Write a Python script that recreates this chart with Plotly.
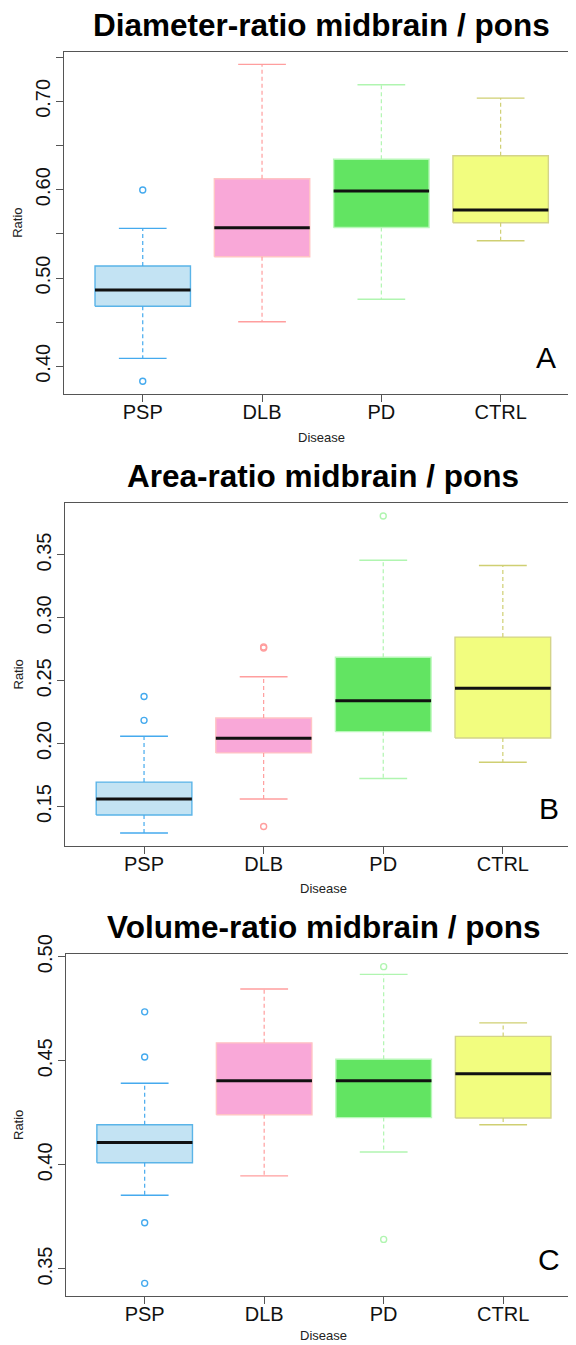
import plotly.graph_objects as go

categories = ["PSP", "DLB", "PD", "CTRL"]

# Panel A: Diameter-ratio
diam_q1 = [0.468, 0.5241, 0.5572, 0.5626]
diam_med = [0.4864, 0.5569, 0.5985, 0.5770]
diam_q3 = [0.5136, 0.6124, 0.6344, 0.6385]
diam_lo = [0.4090, 0.4505, 0.4759, 0.5422]
diam_hi = [0.5562, 0.7419, 0.7189, 0.7037]
diam_out = [[0.5997, 0.3830], [], [], []]

# Panel B: Area-ratio
area_q1 = [0.1432, 0.1926, 0.2095, 0.2045]
area_med = [0.1559, 0.2042, 0.2341, 0.2441]
area_q3 = [0.1694, 0.2204, 0.2687, 0.2847]
area_lo = [0.1289, 0.1559, 0.1722, 0.1852]
area_hi = [0.2058, 0.2532, 0.3458, 0.3416]
area_out = [[0.2375, 0.2185], [0.2760, 0.2768, 0.1341], [0.3810], []]

# Panel C: Volume-ratio
vol_q1 = [0.4010, 0.4241, 0.4227, 0.4225]
vol_med = [0.4107, 0.4404, 0.4404, 0.4438]
vol_q3 = [0.4193, 0.4586, 0.4507, 0.4617]
vol_lo = [0.3854, 0.3947, 0.4062, 0.4193]
vol_hi = [0.4392, 0.4845, 0.4915, 0.4682]
vol_out = [[0.4735, 0.4518, 0.3722, 0.3431], [], [0.4952, 0.3642], []]

titles = ["Diameter-ratio midbrain / pons", "Area-ratio midbrain / pons", "Volume-ratio midbrain / pons"]
letters = ["A", "B", "C"]
y_ticks = [
    [0.40, 0.45, 0.50, 0.55, 0.60, 0.65, 0.70, 0.75],
    [0.15, 0.20, 0.25, 0.30, 0.35],
    [0.35, 0.40, 0.45, 0.50],
]
y_ticklabels = [
    ["0.40", "", "0.50", "", "0.60", "", "0.70", ""],
    ["0.15", "0.20", "0.25", "0.30", "0.35"],
    ["0.35", "0.40", "0.45", "0.50"],
]

fill_colors = ["#c3e3f3", "#f9a8d8", "#62e462", "#f2fd7f"]
border_colors = ["#5ab4e8", "#ffc4c4", "#b8f8b8", "#d4d48a"]
whisker_colors = ["#45aaee", "#ff9e9e", "#b0f5b0", "#cfcf72"]

panels = [
    (diam_q1, diam_med, diam_q3, diam_lo, diam_hi, diam_out),
    (area_q1, area_med, area_q3, area_lo, area_hi, area_out),
    (vol_q1, vol_med, vol_q3, vol_lo, vol_hi, vol_out),
]

# The page body has an 8px margin; the figure is drawn at page offset (8, 8).
OFF = 8
W, H = 576 - OFF, 1345 - OFF


def fx(px):
    return (px - OFF) / W


def fy(py):
    return 1 - (py - OFF) / H


# page-pixel layout of each panel: (left, top, bottom)
panel_px = [(64.0, 51.7, 394.0), (65.1, 503.3, 845.7), (65.8, 954.0, 1296.0)]
spacing_px = [119.3, 119.6, 119.5]

FONT = "Liberation Sans, Arial, Helvetica, sans-serif"
fig = go.Figure()
layout = dict(
    width=W, height=H, margin=dict(l=0, r=0, t=0, b=0, autoexpand=False),
    paper_bgcolor="white", plot_bgcolor="white", showlegend=False,
    font=dict(family=FONT, color="black"),
)
annotations = []

for p, (q1, med, q3, lo, hi, outs) in enumerate(panels):
    ax = "" if p == 0 else str(p + 1)
    xr, yr = "x" + ax, "y" + ax
    for i, cat in enumerate(categories):
        c = i + 1
        # box
        fig.add_trace(go.Scatter(
            x=[c - 0.4, c + 0.4, c + 0.4, c - 0.4, c - 0.4],
            y=[q1[i], q1[i], q3[i], q3[i], q1[i]],
            fill="toself", fillcolor=fill_colors[i], mode="lines",
            line=dict(color=border_colors[i], width=1.4),
            xaxis=xr, yaxis=yr, hoverinfo="skip"))
        # whiskers
        fig.add_trace(go.Scatter(
            x=[c, c, None, c, c], y=[q3[i], hi[i], None, q1[i], lo[i]],
            mode="lines", line=dict(color=whisker_colors[i], width=1.2, dash="4px,3px"),
            xaxis=xr, yaxis=yr, hoverinfo="skip"))
        # staples
        fig.add_trace(go.Scatter(
            x=[c - 0.2, c + 0.2, None, c - 0.2, c + 0.2],
            y=[hi[i], hi[i], None, lo[i], lo[i]],
            mode="lines", line=dict(color=whisker_colors[i], width=1.4),
            xaxis=xr, yaxis=yr, hoverinfo="skip"))
        # median
        fig.add_trace(go.Scatter(
            x=[c - 0.4, c + 0.4], y=[med[i], med[i]],
            mode="lines", line=dict(color="#111111", width=3),
            xaxis=xr, yaxis=yr, name=cat))
        # outliers
        if outs[i]:
            fig.add_trace(go.Scatter(
                x=[c] * len(outs[i]), y=outs[i], mode="markers",
                marker=dict(symbol="circle-open", size=6, color=whisker_colors[i],
                            line=dict(width=1.4, color=whisker_colors[i])),
                xaxis=xr, yaxis=yr))

    left, top, bottom = panel_px[p]
    sp = spacing_px[p]
    x_end = 0.34 + (576 - left) / sp
    allv = lo + hi + [v for o in outs for v in o]
    vmin, vmax = min(allv), max(allv)
    ext = 0.04 * (vmax - vmin)
    layout["xaxis" + ax] = dict(
        domain=[fx(left), 1.0], range=[0.34, x_end], anchor=yr, automargin=False,
        tickvals=[1, 2, 3, 4], ticktext=categories, ticks="outside", ticklen=7,
        ticklabelstandoff=-7,
        tickcolor="#555555", showline=True, linecolor="#555555", linewidth=1.3,
        mirror=True, showgrid=False, zeroline=False,
        tickfont=dict(size=20, family=FONT, color="#111111"))
    layout["yaxis" + ax] = dict(
        domain=[fy(bottom), fy(top)], range=[vmin - ext, vmax + ext], anchor=xr,
        automargin=False,
        tickvals=y_ticks[p], ticktext=y_ticklabels[p], tickangle=-90,
        ticks="outside", ticklen=7, tickcolor="#555555", ticklabelstandoff=-2,
        showline=True, linecolor="#555555", linewidth=1.3, mirror=True,
        showgrid=False, zeroline=False,
        tickfont=dict(size=20, family=FONT, color="#111111"))

    plot_center = (left + (left + (4.66 - 0.34) * sp)) / 2
    annotations.append(dict(
        text="<b>" + titles[p] + "</b>", x=fx(plot_center), y=fy(top - 27),
        xref="paper", yref="paper", xanchor="center", yanchor="middle",
        showarrow=False, font=dict(size=31.5, family=FONT, color="black")))
    annotations.append(dict(
        text="Ratio", x=fx(18), y=fy((top + bottom) / 2), textangle=-90,
        xref="paper", yref="paper", xanchor="center", yanchor="middle",
        showarrow=False, font=dict(size=13, family=FONT, color="#222222")))
    annotations.append(dict(
        text="Disease", x=fx(plot_center), y=fy(min(bottom + 43, 1335)),
        xref="paper", yref="paper", xanchor="center", yanchor="middle",
        showarrow=False, font=dict(size=13, family=FONT, color="#222222")))
    annotations.append(dict(
        text=letters[p], x=fx(left + (4.66 - 0.34) * sp - 33), y=fy(bottom - 37),
        xref="paper", yref="paper", xanchor="center", yanchor="middle",
        showarrow=False, font=dict(size=30, family=FONT, color="black")))

layout["annotations"] = annotations
fig.update_layout(**layout)
fig.write_html("out.html")
